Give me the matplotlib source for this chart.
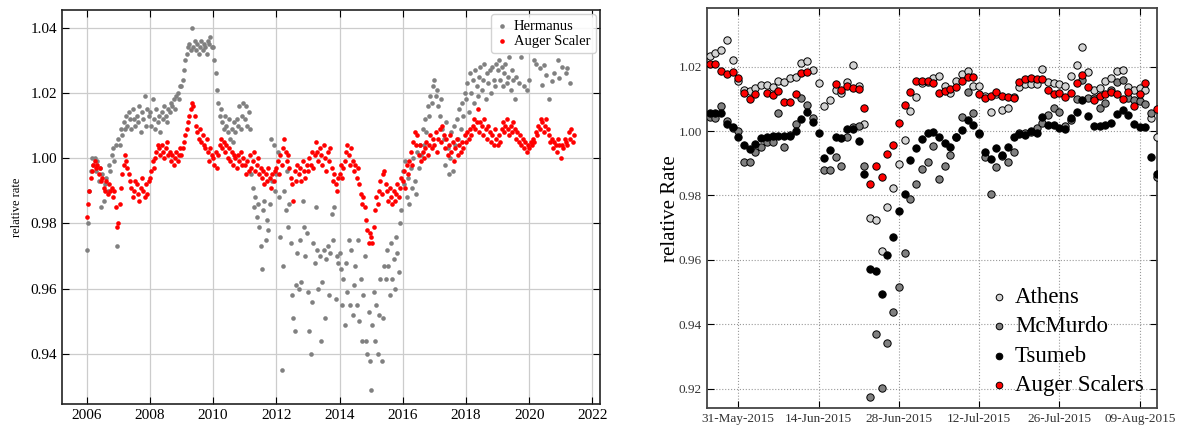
import numpy as np
import pandas as pd
import matplotlib
matplotlib.use('Agg')
import matplotlib.pyplot as plt
import matplotlib.dates as mdates
from matplotlib.ticker import FormatStrFormatter

nan = np.nan

# --- left panel: half-monthly samples starting 2006.0 (24 per year)
hermanus = [
    0.972, 0.980, 0.990, 0.996, 1.000, 0.998, 1.000, 0.996, 0.999, 0.993, 0.997, 0.985,
    0.995, 0.987, 0.992, 0.994, 0.990, 0.998, 0.996, 1.001, 1.003, 0.999, 1.004, 0.973,  # 2006
    1.006, 1.004, 1.009, 1.007, 1.011, 1.009, 1.013, 1.010, 1.014, 1.012, 1.009, 1.015,
    1.012, 1.010, 1.013, 1.011, 1.016, 1.008, 1.014, 1.012, 1.019, 1.010, 1.015, 1.013,  # 2007
    1.014, 1.010, 1.018, 1.012, 1.009, 1.015, 1.011, 1.013, 1.008, 1.014, 1.012, 1.016,
    1.013, 1.011, 1.015, 1.014, 1.017, 1.016, 1.018, 1.015, 1.019, 1.020, 1.018, 1.022,  # 2008
    1.022, 1.024, 1.027, 1.030, 1.032, 1.034, 1.035, 1.033, 1.040, 1.034, 1.036, 1.033,
    1.035, 1.032, 1.034, 1.036, 1.033, 1.035, 1.034, 1.032, 1.036, 1.035, 1.037, 1.034,  # 2009
    1.034, 1.030, 1.026, 1.021, 1.017, 1.013, 1.015, 1.011, 1.009, 1.013, 1.010, 1.008,
    1.012, 1.006, 1.009, 1.005, 1.011, 1.008, 1.012, 1.010, 1.016, 1.009, 1.013, 1.017,  # 2010
    1.012, 1.016, 1.010, 1.014, 1.009, 0.995, 0.991, 0.985, 0.988, 0.982, 0.986, 0.979,
    0.973, 0.966, 0.984, 0.987, 0.975, 0.981, 0.978, 0.986, 1.006, 0.993, 1.004, 0.990,  # 2011
    0.995, 1.002, 0.988, 0.976, 0.935, 0.967, 0.990, 0.984, 0.996, 0.979, 0.986, 0.974,
    0.958, 0.951, 0.947, 0.961, 0.971, 0.960, 0.975, 0.962, 0.987, 0.979, 0.970, 0.977,  # 2012
    0.959, 0.947, 0.940, 0.956, 0.974, 0.968, 0.985, 0.972, 0.960, 0.970, 0.944, 0.962,
    0.972, 0.951, 0.969, 0.973, 0.958, 0.971, 0.983, 0.975, 0.985, 0.957, 0.970, 0.968,  # 2013
    0.971, 0.966, 0.955, 0.963, 0.949, 0.968, 0.959, 0.975, 0.955, 0.972, 0.952, 0.961,
    0.967, 0.955, 0.975, 0.950, 0.963, 0.944, 0.958, 0.970, 0.944, 0.940, 0.953, 0.938,  # 2014
    0.929, 0.949, 0.959, 0.944, 0.955, 0.940, 0.952, 0.963, 0.938, 0.951, 0.967, 0.963,
    0.972, 0.967, 0.958, 0.974, 0.963, 0.969, 0.960, 0.976, 0.971, 0.965, 0.980, 0.984,  # 2015
    0.996, 0.992, 0.999, 0.988, 0.994, 0.986, 0.997, 0.991, 1.000, 0.993, 0.989, 1.002,
    0.997, 1.004, 1.001, 1.009, 1.004, 1.012, 1.008, 1.016, 1.013, 1.019, 1.017, 1.022,  # 2016
    1.024, 1.019, 1.021, 1.016, 1.013, 1.018, 1.009, 1.006, 0.998, 1.011, 1.003, 0.995,
    1.000, 1.008, 0.996, 1.010, 1.004, 1.012, 1.006, 1.015, 1.009, 1.017, 1.013, 1.020,  # 2017
    1.018, 1.023, 1.014, 1.026, 1.020, 1.024, 1.017, 1.027, 1.022, 1.019, 1.025, 1.028,
    1.021, 1.024, 1.029, 1.018, 1.026, 1.023, 1.027, 1.020, 1.028, 1.024, 1.022, 1.029,  # 2018
    1.027, 1.030, 1.024, 1.028, 1.022, 1.026, 1.029, 1.023, 1.025, 1.031, 1.021, 1.027,
    1.024, 1.018, 1.025, nan, 1.023, nan, 1.031, nan, 1.022, nan, 1.021, nan,  # 2019
    1.024, nan, nan, nan, 1.030, 1.029, nan, nan, 1.0275, nan, 1.0225, 1.0285,
    nan, 1.0255, nan, 1.018, nan, 1.0235, nan, 1.026, nan, nan, 1.030, 1.0245,  # 2020
    nan, 1.028, nan, nan, 1.026, 1.0275, nan, 1.023, nan, nan, nan,  # 2021
]

auger = [
    0.982, 0.986, 0.990, 0.994, 0.996, 0.998, 0.999, 0.997, 0.998, 0.995, 0.997, 0.993,
    0.994, 0.991, 0.990, 0.993, 0.989, 0.992, 0.990, 0.991, 0.988, 0.990, 0.985, 0.979,  # 2006
    0.980, 0.986, 0.991, 0.995, 0.998, 1.001, 0.999, 0.997, 0.995, 0.993, 0.991, 0.988,
    0.990, 0.993, 0.992, 0.989, 0.987, 0.991, 0.994, 0.990, 0.988, 0.992, 0.989, 0.993,  # 2007
    0.994, 0.996, 0.999, 0.997, 1.000, 1.002, 1.004, 1.003, 1.001, 1.004, 1.002, 1.000,
    1.003, 1.005, 1.001, 1.002, 0.999, 1.001, 0.998, 1.000, 1.002, 0.999, 1.001, 1.003,  # 2008
    1.001, 1.003, 1.005, 1.007, 1.009, 1.011, 1.013, 1.015, 1.017, 1.016, 1.013, 1.010,
    1.008, 1.006, 1.009, 1.005, 1.007, 1.004, 1.003, 1.006, 1.002, 0.999, 1.003, 1.001,  # 2009
    1.000, 0.998, 1.002, 0.997, 1.001, 1.004, 1.006, 1.003, 1.005, 1.002, 1.004, 1.000,
    1.003, 0.999, 1.002, 0.998, 1.001, 1.000, 0.997, 1.001, 0.999, 1.002, 0.998, 1.000,  # 2010
    0.998, 0.995, 0.999, 0.996, 1.001, 0.997, 0.999, 1.002, 0.996, 0.998, 1.000, 0.995,
    0.997, 0.994, 0.996, 0.992, 0.995, 0.993, 0.997, 0.994, 0.991, 0.995, 0.993, 0.996,  # 2011
    0.997, 0.999, 0.995, 1.001, 0.998, 1.003, 1.006, 1.002, 0.999, 1.001, 0.997, 0.994,
    0.992, 0.987, 0.996, 0.993, 0.998, 0.995, 0.997, 0.993, 0.999, 0.996, 0.994, 0.998,  # 2012
    0.996, 1.000, 0.998, 1.002, 0.997, 1.001, 1.005, 1.002, 0.999, 1.003, 1.001, 0.998,
    1.004, 1.000, 0.996, 1.002, 0.999, 1.003, 0.997, 0.993, 0.995, 0.992, 0.990, 0.994,  # 2013
    0.995, 0.998, 0.994, 0.997, 0.999, 1.002, 1.004, 1.001, 0.998, 1.003, 0.999, 0.996,
    0.998, 0.994, 0.997, 0.992, 0.989, 0.986, 0.988, 0.985, 0.981, 0.978, 0.974, 0.977,  # 2014
    0.976, 0.974, 0.979, 0.984, 0.988, 0.986, 0.990, 0.993, 0.989, 0.995, 0.996, 0.992,
    0.990, 0.987, 0.991, 0.988, 0.986, 0.990, 0.987, 0.989, 0.992, 0.988, 0.991, 0.994,  # 2015
    0.993, 0.996, 0.991, 0.998, 0.995, 0.999, 1.002, 0.998, 1.005, 1.008, 1.004, 1.007,
    1.001, 1.004, 0.999, 1.002, 1.000, 1.003, 1.005, 1.001, 1.004, 1.007, 1.003, 1.006,  # 2016
    1.004, 1.008, 1.002, 1.006, 1.009, 1.005, 1.010, 1.007, 1.003, 1.006, 1.001, 1.004,
    1.007, 1.002, 1.005, 0.999, 1.003, 1.006, 1.001, 1.004, 1.002, 1.005, 1.003, 1.007,  # 2017
    1.005, 1.008, 1.006, 1.009, 1.007, 1.010, 1.012, 1.009, 1.011, 1.015, 1.008, 1.011,
    1.010, 1.007, 1.012, 1.009, 1.006, 1.010, 1.008, 1.005, 1.007, 1.004, 1.009, 1.006,  # 2018
    1.004, 1.007, 1.005, 1.009, 1.011, 1.008, 1.010, 1.012, 1.009, 1.007, 1.010, 1.008,
    1.011, 1.009, 1.006, 1.008, 1.005, 1.007, 1.004, 1.006, 1.003, 1.005, 1.002, 1.004,  # 2019
    1.003, 1.005, 1.004, 1.006, 1.005, 1.008, 1.007, 1.010, 1.009, 1.012, 1.011, 1.008,
    1.010, 1.012, 1.009, 1.007, 1.005, 1.006, 1.003, 1.005, 1.004, 1.002, 1.006, 1.004,  # 2020
    1.000, 1.004, 1.003, 1.006, 1.005, 1.004, 1.008, 1.006, 1.009, 1.005, 1.007,  # 2021
]

# --- right panel: daily values from 26-May-2015
athens = [
    1.0234, 1.0241, 1.0252, 1.0283, 1.0219, 1.0155, 1.0127, 1.0125, 1.0135, 1.0143,
    1.0143, 1.0136, 1.0155, 1.0153, 1.0164, 1.0169, 1.0212, 1.0218, 1.0190, 1.0150,
    1.0079, 1.0096, 1.0127, 1.0117, 1.0153, 1.0204, 1.0140, 1.0022, 0.9729, 0.9724,
    0.9627, 0.9765, 0.9822, 0.9899, 0.9972, 1.0062, 1.0107, 1.0150, 1.0152, 1.0164,
    1.0171, 1.0140, 1.0117, 1.0155, 1.0177, 1.0186, 1.0140, 1.0140, 1.0110, 1.0060,
    1.0115, 1.0065, 1.0070, 1.0107, 1.0136, 1.0146, 1.0146, 1.0146, 1.0192, 1.0153,
    1.0150, 1.0145, 1.0140, 1.0171, 1.0204, 1.0262, 1.0184, 1.0127, 1.0133, 1.0155,
    1.0164, 1.0186, 1.0190, 1.0136, 1.0127, 1.0133, 1.0127, 1.0042, 0.9980,
]
mcmurdo = [
    1.0045, 1.0042, 1.0078, 1.0032, 1.0008, 1.0001, 0.9903, 0.9905, 0.9934, 0.9951,
    0.9967, 0.9967, 1.0057, 0.9951, 0.9988, 1.0022, 1.0102, 1.0081, 1.0042, nan,
    0.9879, 0.9879, 0.9920, 0.9892, 0.9982, 1.0013, 1.0016, 0.9892, 0.9175, 0.9369,
    0.9203, 0.9341, 0.9437, 0.9515, 0.9620, 0.9789, 0.9834, 0.9881, 0.9903, 0.9954,
    0.9850, 0.9892, 0.9925, 0.9982, 1.0045, 1.0122, 1.0055, 0.9990, 0.9920, 0.9803,
    0.9889, 0.9923, 0.9905, 0.9936, 0.9993, 0.9993, 0.9998, 1.0008, 1.0024, 1.0050,
    1.0070, 1.0060, 1.0016, 1.0034, 1.0100, 1.0158, 1.0102, 1.0102, 1.0070, 1.0086,
    1.0127, 1.0153, 1.0158, 1.0102, 1.0096, 1.0094, 1.0084, 1.0057, 0.9858,
]
tsumeb = [
    1.0055, 1.0055, 1.0055, 1.0021, 1.0011, 0.9982, 0.9956, 0.9944, 0.9960, 0.9979,
    0.9982, 0.9984, 0.9984, 0.9984, 0.9984, 1.0001, 1.0036, 1.0058, 1.0027, 0.9993,
    0.9917, 0.9941, 0.9982, 0.9977, 1.0005, 1.0006, 0.9970, 0.9866, 0.9572, 0.9565,
    0.9495, 0.9614, 0.9672, 0.9752, 0.9803, 0.9910, 0.9946, 0.9974, 0.9993, 0.9996,
    0.9982, 0.9964, 0.9951, 0.9980, 1.0003, 1.0034, 1.0019, 0.9995, 0.9936, 0.9912,
    0.9948, 0.9927, 0.9951, 0.9982, 0.9991, 0.9988, 1.0000, 0.9995, 1.0045, 1.0019,
    1.0019, 1.0008, 1.0006, 1.0039, 1.0060, 1.0096, 1.0048, 1.0016, 1.0017, 1.0019,
    1.0026, 1.0053, 1.0065, 1.0050, 1.0022, 1.0013, 1.0013, 0.9920, 0.9868,
]
auger_daily = [
    1.0207, 1.0207, 1.0186, 1.0177, 1.0184, 1.0166, 1.0117, 1.0099, 1.0115, nan,
    1.0117, 1.0112, 1.0125, 1.0091, 1.0091, 1.0115, 1.0179, 1.0184, nan, nan,
    nan, nan, 1.0145, 1.0127, 1.0140, 1.0135, 1.0130, 1.0073, 0.9837, 0.9892,
    0.9858, 0.9929, 0.9956, 1.0024, 1.0080, 1.0122, 1.0155, 1.0155, 1.0155, 1.0148,
    1.0119, 1.0124, 1.0130, 1.0136, 1.0155, 1.0167, 1.0167, 1.0114, 1.0104, 1.0110,
    1.0121, 1.0110, 1.0107, 1.0102, 1.0151, 1.0161, 1.0164, 1.0163, 1.0163, 1.0127,
    1.0114, 1.0119, 1.0107, 1.0119, 1.0148, 1.0173, 1.0136, 1.0096, 1.0109, 1.0114,
    1.0121, 1.0114, 1.0098, 1.0120, 1.0078, 1.0114, 1.0148, nan, 1.0069,
]

plt.rcParams['font.family'] = ['Liberation Serif', 'DejaVu Serif']

fig = plt.figure(figsize=(11.79, 4.28), dpi=100)
ax1 = fig.add_axes([0.0526, 0.0561, 0.4563, 0.9206])
ax2 = fig.add_axes([0.5994, 0.046, 0.3819, 0.9353])

# left: long-term comparison
t = 2006 + np.arange(len(hermanus)) / 24.0
ax1.scatter(t, hermanus, s=11, color='#808080', lw=0, label='Hermanus', zorder=3)
ax1.scatter(t, auger, s=11, color='red', lw=0, label='Auger Scaler', zorder=4)
ax1.set_xlim(2005.22, 2022.24)
ax1.set_ylim(0.9247, 1.0454)
ax1.set_xticks(np.arange(2006, 2023, 2))
ax1.set_yticks(np.arange(0.94, 1.041, 0.02))
ax1.yaxis.set_major_formatter(FormatStrFormatter('%.2f'))
ax1.grid(True, color='#cccccc', lw=0.9)
ax1.set_axisbelow(True)
ax1.tick_params(direction='in', top=True, right=True, length=5, labelsize=11)
ax1.set_ylabel('relative rate', fontsize=9)
ax1.yaxis.set_label_coords(-0.072, 0.5)
for sp in ax1.spines.values():
    sp.set_color('#222222')
    sp.set_linewidth(1.2)
ax1.legend(loc='upper right', fontsize=10.5, markerscale=1.0, handlelength=0.8,
           handletextpad=0.4, borderpad=0.35, labelspacing=0.15, borderaxespad=0.3,
           framealpha=0.85, edgecolor='#cccccc', scatterpoints=1)

# right: June 2015 event
days = pd.date_range('2015-05-26', periods=len(athens), freq='D')
kw = dict(s=28, edgecolors='black', linewidths=0.7, zorder=3)
ax2.scatter(days, athens, c='#d3d3d3', label='Athens', **kw)
ax2.scatter(days, mcmurdo, c='#808080', label='McMurdo', **kw)
ax2.scatter(days, tsumeb, c='black', label='Tsumeb', **kw)
ax2.scatter(days, auger_daily, c='red', label='Auger Scalers', **kw)
ax2.set_xlim(pd.Timestamp('2015-05-25 12:00'), pd.Timestamp('2015-08-12'))
ax2.set_ylim(0.9139, 1.0382)
ax2.set_xticks(pd.date_range('2015-05-31', periods=6, freq='14D'))
ax2.xaxis.set_major_formatter(mdates.DateFormatter('%d-%b-%Y'))
ax2.set_yticks(np.arange(0.92, 1.021, 0.02))
ax2.yaxis.set_major_formatter(FormatStrFormatter('%.2f'))
ax2.grid(True, ls=':', color='#999999', lw=0.8)
ax2.set_axisbelow(True)
ax2.tick_params(direction='in', top=True, right=True, length=5, labelsize=9.5,
                labelcolor='#333333')
ax2.set_ylabel('relative Rate', fontsize=15)
ax2.yaxis.set_label_coords(-0.06, 0.5)
for sp in ax2.spines.values():
    sp.set_color('#444444')
    sp.set_linewidth(1.3)
ax2.legend(loc='upper left', bbox_to_anchor=(0.6336, 0.303), frameon=False,
           fontsize=16.5, handlelength=0.6, handletextpad=0.4, borderpad=0,
           borderaxespad=0, labelspacing=0.36, markerscale=0.9, scatterpoints=1)

fig.savefig('out.png', dpi=100)
